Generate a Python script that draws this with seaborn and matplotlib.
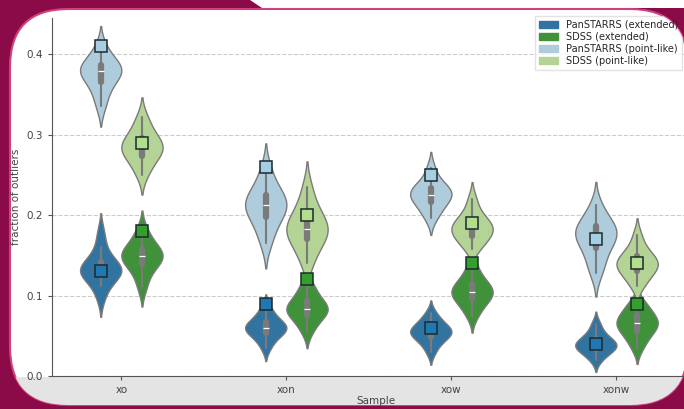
import seaborn as sns
import matplotlib.pyplot as plt
import pandas as pd
from matplotlib.patches import FancyBboxPatch, Patch, Rectangle, Polygon

samples = ["xo", "xon", "xow", "xonw"]

# samples of the outlier fraction, one list per sample
ps_ext = [
    [0.098, 0.112, 0.12, 0.125, 0.128, 0.13, 0.132, 0.134, 0.137, 0.142, 0.148, 0.16, 0.178],
    [0.035, 0.045, 0.05, 0.054, 0.057, 0.059, 0.061, 0.063, 0.066, 0.07, 0.076, 0.085],
    [0.03, 0.04, 0.045, 0.049, 0.052, 0.054, 0.056, 0.058, 0.061, 0.065, 0.07, 0.078],
    [0.02, 0.027, 0.031, 0.034, 0.036, 0.038, 0.04, 0.042, 0.045, 0.049, 0.055, 0.065],
]
sdss_ext = [
    [0.11, 0.125, 0.135, 0.14, 0.145, 0.148, 0.15, 0.153, 0.157, 0.162, 0.17, 0.182],
    [0.055, 0.065, 0.072, 0.077, 0.08, 0.082, 0.085, 0.088, 0.092, 0.098, 0.105, 0.115],
    [0.075, 0.085, 0.092, 0.097, 0.1, 0.103, 0.106, 0.109, 0.113, 0.118, 0.125, 0.138],
    [0.035, 0.045, 0.052, 0.057, 0.061, 0.064, 0.067, 0.07, 0.074, 0.079, 0.085, 0.092],
]
ps_pt = [
    [0.335, 0.35, 0.36, 0.368, 0.373, 0.377, 0.38, 0.383, 0.386, 0.39, 0.397, 0.41],
    [0.165, 0.18, 0.192, 0.2, 0.206, 0.21, 0.214, 0.218, 0.224, 0.23, 0.24, 0.258],
    [0.196, 0.205, 0.212, 0.217, 0.221, 0.224, 0.227, 0.23, 0.233, 0.237, 0.243, 0.258],
    [0.128, 0.14, 0.152, 0.162, 0.168, 0.173, 0.177, 0.181, 0.185, 0.19, 0.198, 0.212],
]
sdss_pt = [
    [0.25, 0.262, 0.27, 0.275, 0.28, 0.283, 0.286, 0.29, 0.295, 0.3, 0.31, 0.322],
    [0.14, 0.155, 0.165, 0.172, 0.177, 0.181, 0.185, 0.19, 0.196, 0.205, 0.215, 0.235],
    [0.158, 0.165, 0.171, 0.175, 0.179, 0.182, 0.185, 0.188, 0.192, 0.197, 0.205, 0.22],
    [0.112, 0.12, 0.127, 0.132, 0.135, 0.138, 0.141, 0.144, 0.148, 0.153, 0.16, 0.175],
]

# reference values (square markers)
ps_ext_ref = [0.13, 0.09, 0.06, 0.04]
sdss_ext_ref = [0.18, 0.12, 0.14, 0.09]
ps_pt_ref = [0.41, 0.26, 0.25, 0.17]
sdss_pt_ref = [0.29, 0.20, 0.19, 0.14]

labels = ["PanSTARRS (extended)", "SDSS (extended)",
          "PanSTARRS (point-like)", "SDSS (point-like)"]
colors = ["#1f78b4", "#33a02c", "#a6cee3", "#b2df8a"]


def long_form(groups, names):
    rows = []
    for vals, name in zip(groups, names):
        for s, v in zip(samples, vals):
            if isinstance(v, list):
                rows += [(s, name, x) for x in v]
            else:
                rows.append((s, name, v))
    return pd.DataFrame(rows, columns=["Sample", "survey", "value"])


df_ext = long_form([ps_ext, sdss_ext], labels[:2])
df_pt = long_form([ps_pt, sdss_pt], labels[2:])
ref_ext = long_form([ps_ext_ref, sdss_ext_ref], labels[:2])
ref_pt = long_form([ps_pt_ref, sdss_pt_ref], labels[2:])

sns.set_style("ticks")
fig = plt.figure(figsize=(6.84, 4.09), dpi=100, facecolor="#8a0b47")

# slide frame
fig.patches.append(Polygon([(250 / 684, 1), (1, 1), (1, 1 - 8 / 409), (262 / 684, 1 - 8 / 409)],
                           closed=True, transform=fig.transFigure, facecolor="white",
                           edgecolor="none", zorder=-2))
card = FancyBboxPatch((10 / 684, 4 / 409), 678 / 684, 396 / 409,
                      boxstyle="round,pad=0,rounding_size=0.085",
                      mutation_aspect=684 / 409,
                      transform=fig.transFigure, facecolor="white",
                      edgecolor="#d0407a", linewidth=1.5, zorder=-2)
fig.patches.append(card)
grey = Rectangle((0, 4 / 409), 1, 28 / 409, transform=fig.transFigure,
                 facecolor="#e4e4e4", edgecolor="none", zorder=-1)
grey.set_clip_path(card)
fig.patches.append(grey)

ax = fig.add_axes([52 / 684, 33 / 409, 647 / 684, 358 / 409])
ax.patch.set_alpha(0)

vkw = dict(x="Sample", y="value", hue="survey", order=samples, width=0.5,
           density_norm="width", inner="box", linewidth=1, linecolor="#7a7a7a",
           legend=False, ax=ax)
sns.violinplot(data=df_ext, palette=colors[:2], **vkw)
sns.violinplot(data=df_pt, palette=colors[2:], **vkw)

pkw = dict(x="Sample", y="value", hue="survey", order=samples, dodge=0.25,
           linestyle="none", markers="s", errorbar=None, legend=False,
           markersize=8, markeredgecolor="#1c2a30", markeredgewidth=1.1, ax=ax)
sns.pointplot(data=ref_ext, palette=colors[:2], **pkw)
sns.pointplot(data=ref_pt, palette=colors[2:], **pkw)

ax.set_xlim(-0.42, 3.5)
ax.set_ylim(0, 0.445)
ax.set_yticks([0.0, 0.1, 0.2, 0.3, 0.4])
ax.yaxis.grid(True, linestyle="--", color="#cccccc", linewidth=0.8)
ax.set_axisbelow(True)
sns.despine(ax=ax)
for sp in ["left", "bottom"]:
    ax.spines[sp].set_color("#555555")
ax.tick_params(labelsize=7.5, colors="#555555", labelcolor="#444444", length=3)
ax.set_xlabel("Sample", fontsize=7.5, color="#444444", labelpad=1)
ax.set_ylabel("fraction of outliers", fontsize=7.5, color="#444444")

handles = [Patch(facecolor=sns.desaturate(c, 0.75), edgecolor=sns.desaturate(c, 0.75)) for c in colors]
leg = ax.legend(handles, labels, loc="upper right", bbox_to_anchor=(682 / 684, 1 - 16 / 409),
                bbox_transform=fig.transFigure, fontsize=7, labelspacing=0.2,
                frameon=True, edgecolor="#dddddd", fancybox=False, borderaxespad=0)
for a in leg.findobj():
    a.set_clip_on(True)
    a.set_clip_path(card)

fig.savefig("out.png", dpi=100, facecolor=fig.get_facecolor())
